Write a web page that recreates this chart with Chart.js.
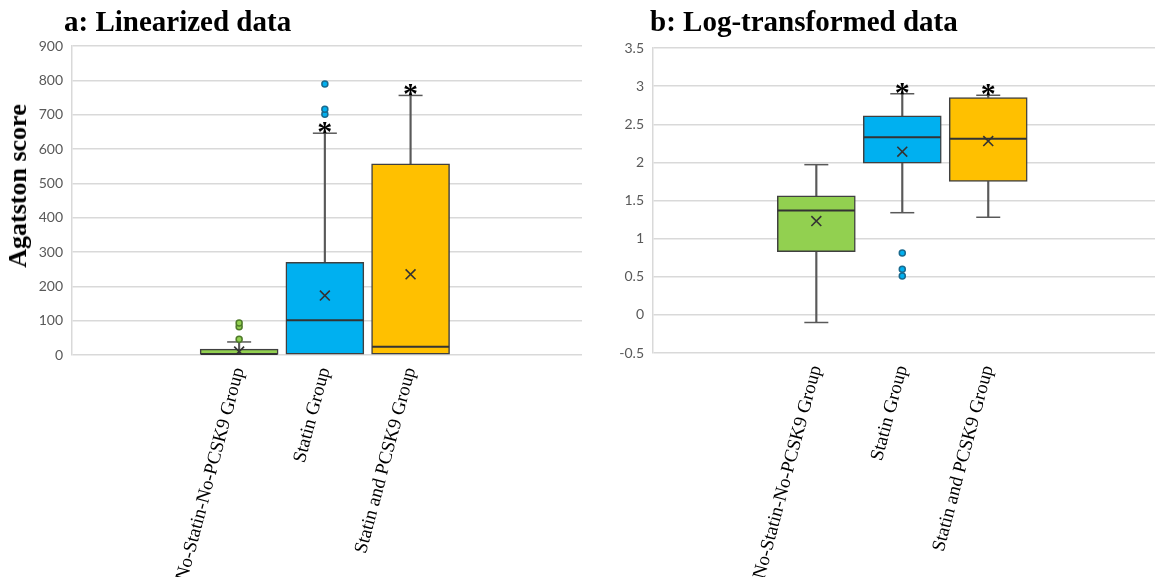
<!DOCTYPE html>
<html>
<head>
<meta charset="utf-8">
<script src="https://cdn.jsdelivr.net/npm/chart.js@4.4.1/dist/chart.umd.min.js"></script>
<style>
  html, body { margin: 0; padding: 0; background: #fff; }
  #wrap { position: relative; width: 1155px; height: 577px; overflow: hidden; }
  .panel { position: absolute; top: 0; }
  .title { position: absolute; font: bold 29px "Liberation Serif", serif; color: #000; line-height: 1; white-space: nowrap; }
  .ytitle { position: absolute; font: bold 26px "Liberation Serif", serif; color: #000; white-space: nowrap;
            transform: translate(-50%, -50%) rotate(-90deg); }
</style>
</head>
<body>
<div id="wrap">
  <div class="panel" style="left:0;width:583px;height:577px"><canvas id="chartA" width="583" height="577"></canvas></div>
  <div class="panel" style="left:583px;width:572px;height:577px"><canvas id="chartB" width="572" height="577"></canvas></div>
  <div class="title" style="left:64px;top:7px">a: Linearized data</div>
  <div class="title" style="left:650px;top:7px">b: Log-transformed data</div>
  <div class="ytitle" style="left:18px;top:186px">Agatston score</div>
</div>
<script>
// groups and their slots on the x axis
const groups = ["No-Statin-No-PCSK9 Group", "Statin Group", "Statin and PCSK9 Group"];
const groupPos = [1, 2, 3];
const boxColors = ["#92D050", "#00B0F0", "#FFC000"];
const dotEdge = ["#4E7A2A", "#1A6A8E", "#9A7400"];

// a: linearized data
const linMin = [0, 0, 0];
const linQ1 = [0, 0, 0];
const linMedian = [2, 101, 24];
const linQ3 = [17, 270, 557];
const linMax = [38, 646, 756];
const linMean = [10, 173, 235];
const linOutliers = [[46, 82, 93], [701, 716, 789], []];
const linStars = [false, true, true];
const linTicks = { min: 0, max: 900, step: 100 };

// b: log-transformed data
const logMin = [-0.1, 1.34, 1.28];
const logQ1 = [0.83, 1.99, 1.75];
const logMedian = [1.37, 2.33, 2.31];
const logQ3 = [1.56, 2.61, 2.85];
const logMax = [1.97, 2.90, 2.88];
const logMean = [1.23, 2.14, 2.28];
const logOutliers = [[], [0.51, 0.6, 0.81], []];
const logStars = [false, true, true];
const logTicks = { min: -0.5, max: 3.5, step: 0.5 };

const whiskerColor = "#595959";
const edgeColor = "#404040";

function buildDatasets(d) {
  const pts = (arr) => groupPos.map((x, i) => ({ x, y: arr[i] }));
  const out = [], outBg = [], outEdge = [];
  d.outliers.forEach((list, i) => list.forEach((v) => {
    out.push({ x: groupPos[i], y: v }); outBg.push(boxColors[i]); outEdge.push(dotEdge[i]);
  }));
  const caps = [];
  groupPos.forEach((x, i) => {
    caps.push({ x, y: d.max[i] });
    if (d.min[i] < d.q1[i]) caps.push({ x, y: d.min[i] });
  });
  const whiskers = [];
  groupPos.forEach((x, i) => {
    whiskers.push({ x, y: [d.q3[i], d.max[i]] });
    if (d.min[i] < d.q1[i]) whiskers.push({ x, y: [d.min[i], d.q1[i]] });
  });
  // first dataset is drawn on top
  return [
    { type: "scatter", data: pts(d.mean), pointStyle: "crossRot", pointRadius: 7,
      pointBorderColor: "#333", pointBorderWidth: 1.6, pointBackgroundColor: "transparent" },
    { type: "scatter", data: pts(d.median), pointStyle: "line", pointRadius: 38.5,
      pointBorderColor: "#333", pointBorderWidth: 2 },
    { type: "scatter", data: out, pointStyle: "circle", pointRadius: 3,
      pointBackgroundColor: outBg, pointBorderColor: outEdge, pointBorderWidth: 1.5 },
    { type: "bar", data: groupPos.map((x, i) => ({ x, y: [d.q1[i], d.q3[i]] })),
      backgroundColor: boxColors, borderColor: edgeColor, borderWidth: 1.5,
      borderSkipped: false, barThickness: 78, grouped: false },
    { type: "scatter", data: caps, pointStyle: "line", pointRadius: 12,
      pointBorderColor: whiskerColor, pointBorderWidth: 1.5 },
    { type: "bar", data: whiskers, backgroundColor: whiskerColor, borderWidth: 0,
      barThickness: 1.5, grouped: false }
  ];
}

// asterisks above the marked upper whiskers
const starPlugin = {
  id: "stars",
  afterDatasetsDraw(chart, args, opts) {
    const { ctx, scales: { x, y } } = chart;
    ctx.save();
    ctx.fillStyle = "#000";
    ctx.font = "bold 30px 'Liberation Serif'";
    ctx.textAlign = "center";
    ctx.textBaseline = "alphabetic";
    opts.marks.forEach((on, i) => {
      if (!on) return;
      ctx.fillText("*", x.getPixelForValue(groupPos[i]), y.getPixelForValue(opts.top[i]) + 8);
    });
    ctx.restore();
  }
};

function makeChart(id, d, t, opt) {
  return new Chart(document.getElementById(id), {
    type: "bar",
    data: { datasets: buildDatasets(d) },
    plugins: [starPlugin],
    options: {
      responsive: false,
      animation: false,
      devicePixelRatio: 1,
      layout: { autoPadding: false, padding: { top: opt.top, right: opt.right, left: 0, bottom: 0 } },
      plugins: {
        legend: { display: false },
        tooltip: { enabled: false },
        stars: { marks: d.stars, top: d.max }
      },
      scales: {
        x: {
          type: "linear", min: opt.xMin, max: opt.xMax, offset: false,
          grid: { display: false }, border: { display: false },
          afterBuildTicks: (s) => { s.ticks = groupPos.map((v) => ({ value: v })); },
          afterFit: (s) => { s.height = opt.xHeight; s.paddingLeft = 0; s.paddingRight = 0; },
          ticks: {
            autoSkip: false, minRotation: 75, maxRotation: 75, padding: 2,
            color: "#000", font: { family: "'Liberation Serif'", size: 19 },
            callback: (v) => groups[Math.round(v) - 1] ?? ""
          }
        },
        y: {
          min: t.min, max: t.max,
          afterFit: (s) => { s.width = opt.yWidth; },
          grid: { color: "#D9D9D9", lineWidth: 1.5, drawTicks: false },
          border: { display: true, color: "#D9D9D9", width: 1.5 },
          ticks: {
            stepSize: t.step, padding: 9, color: "#595959",
            font: { family: "Lato", size: 14 },
            callback: (v) => String(+v.toFixed(2))
          }
        }
      }
    }
  });
}

makeChart("chartA",
  { min: linMin, q1: linQ1, median: linMedian, q3: linQ3, max: linMax, mean: linMean,
    outliers: linOutliers, stars: linStars },
  linTicks,
  { top: 46, right: 1, xHeight: 222, yWidth: 72, xMin: -0.95, xMax: 5.0 });

makeChart("chartB",
  { min: logMin, q1: logQ1, median: logMedian, q3: logQ3, max: logMax, mean: logMean,
    outliers: logOutliers, stars: logStars },
  logTicks,
  { top: 48, right: 0, xHeight: 224, yWidth: 70, xMin: -0.9, xMax: 4.94 });
</script>
</body>
</html>
